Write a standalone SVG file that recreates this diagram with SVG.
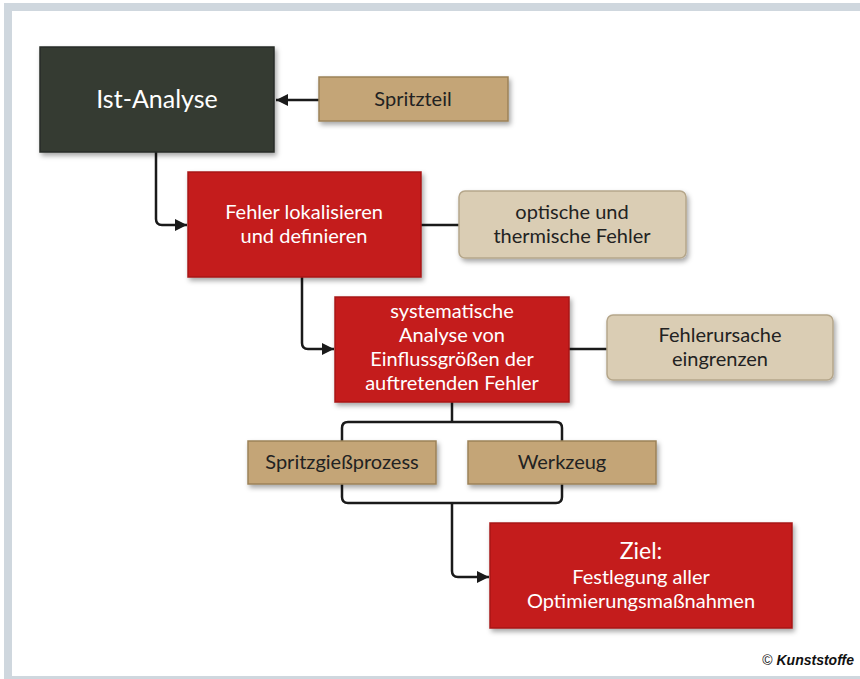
<svg xmlns="http://www.w3.org/2000/svg" width="860" height="679" viewBox="0 0 860 679">
<defs>
<filter id="sh" x="-10%" y="-10%" width="125%" height="130%">
<feDropShadow dx="2" dy="3" stdDeviation="2.5" flood-color="#000" flood-opacity="0.35"/>
</filter>
<marker id="ah" markerUnits="userSpaceOnUse" markerWidth="14" markerHeight="14" refX="12" refY="7" orient="auto">
<path d="M0,1 L12,7 L0,13 Z" fill="#1a1a1a"/>
</marker>
</defs>
<style>
.t{font-family:Lato,"Open Sans",sans-serif;text-anchor:middle}
.w{fill:#fff}
.k{fill:#222}
.red{fill:#c41f1f;stroke:#a81818;stroke-width:1.5}
.tan{fill:#c4a577;stroke:#9c8258;stroke-width:1.5}
.bei{fill:#dacdb4;stroke:#b5a68a;stroke-width:1.5}
.c{fill:none;stroke:#1a1a1a;stroke-width:2.5}
</style>
<rect x="0" y="0" width="860" height="679" fill="#fff"/>
<path d="M4,3 H860 V11 H12 V676 H860 V679 H4 Z" fill="#cfd7de"/>
<g id="connectors">
<path class="c" d="M319,100 H276" marker-end="url(#ah)"/>
<path class="c" d="M156,152 V219 Q156,225 162,225 H187" marker-end="url(#ah)"/>
<path class="c" d="M421,225 H459"/>
<path class="c" d="M302,277 V343 Q302,349 308,349 H334" marker-end="url(#ah)"/>
<path class="c" d="M569,349 H607"/>
<path class="c" d="M452,402 V422"/>
<path class="c" d="M342,441 V428 Q342,422 348,422 H556 Q562,422 562,428 V441"/>
<path class="c" d="M342,484 V497 Q342,503 348,503 H556 Q562,503 562,497 V484"/>
<path class="c" d="M452,503 V571 Q452,577 458,577 H489" marker-end="url(#ah)"/>
</g>
<g id="ist-analyse">
<rect x="40" y="47" width="234" height="105" fill="#363a33" stroke="#2a2d28" stroke-width="1.5" filter="url(#sh)"/>
<text class="t w" x="157" y="108" font-size="25">Ist-Analyse</text>
</g>
<g id="spritzteil">
<rect x="319" y="77" width="189" height="44" class="tan" filter="url(#sh)"/>
<text class="t k" x="413" y="106" font-size="20">Spritzteil</text>
</g>
<g id="fehler-lokalisieren">
<rect x="188" y="172" width="233" height="105" class="red" filter="url(#sh)"/>
<text class="t w" x="304" y="219" font-size="20">Fehler lokalisieren</text>
<text class="t w" x="304" y="243" font-size="20">und definieren</text>
</g>
<g id="optische-fehler">
<rect x="459" y="191" width="227" height="67" rx="6" class="bei" filter="url(#sh)"/>
<text class="t k" x="572" y="219" font-size="20">optische und</text>
<text class="t k" x="572" y="243" font-size="20">thermische Fehler</text>
</g>
<g id="systematische-analyse">
<rect x="335" y="297" width="234" height="105" class="red" filter="url(#sh)"/>
<text class="t w" x="452" y="318" font-size="20">systematische</text>
<text class="t w" x="452" y="342" font-size="20">Analyse von</text>
<text class="t w" x="452" y="366" font-size="20">Einflussgrößen der</text>
<text class="t w" x="452" y="390" font-size="20">auftretenden Fehler</text>
</g>
<g id="fehlerursache">
<rect x="607" y="315" width="226" height="65" rx="6" class="bei" filter="url(#sh)"/>
<text class="t k" x="720" y="342" font-size="20">Fehlerursache</text>
<text class="t k" x="720" y="366" font-size="20">eingrenzen</text>
</g>
<g id="spritzgiessprozess">
<rect x="248" y="441" width="188" height="43" class="tan" filter="url(#sh)"/>
<text class="t k" x="342" y="469" font-size="20">Spritzgießprozess</text>
</g>
<g id="werkzeug">
<rect x="468" y="441" width="188" height="43" class="tan" filter="url(#sh)"/>
<text class="t k" x="562" y="469" font-size="20">Werkzeug</text>
</g>
<g id="ziel">
<rect x="490" y="523" width="302" height="105" class="red" filter="url(#sh)"/>
<text class="t w" x="641" y="559" font-size="23">Ziel:</text>
<text class="t w" x="641" y="584" font-size="20">Festlegung aller</text>
<text class="t w" x="641" y="608" font-size="20">Optimierungsmaßnahmen</text>
</g>
<text x="854" y="665" font-family="'Liberation Sans',Arial,sans-serif" font-size="14" fill="#111" text-anchor="end"><tspan>© </tspan><tspan font-weight="bold" font-style="italic"> Kunststoffe</tspan></text>
</svg>
